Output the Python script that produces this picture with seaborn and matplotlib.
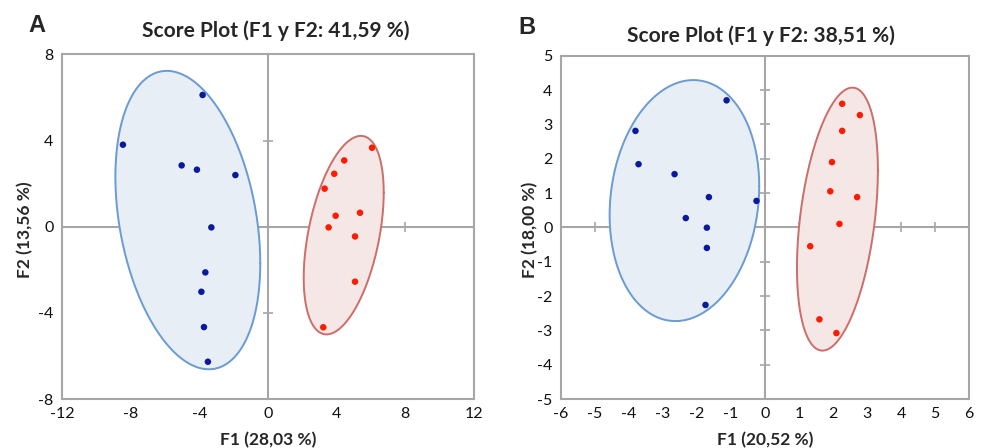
import matplotlib
matplotlib.use("Agg")
import matplotlib.pyplot as plt
import numpy as np
import pandas as pd
import seaborn as sns

# Panel A scores
a_blue_x = [-3.81, -8.45, -5.03, -4.14, -1.90, -3.30, -3.65, -3.88, -3.73, -3.50]
a_blue_y = [6.12, 3.81, 2.85, 2.65, 2.40, -0.03, -2.12, -3.02, -4.66, -6.27]
a_red_x = [6.06, 4.44, 3.86, 3.30, 3.94, 5.36, 3.53, 5.07, 5.07, 3.22]
a_red_y = [3.67, 3.08, 2.46, 1.77, 0.51, 0.65, -0.03, -0.45, -2.55, -4.67]

# Panel B scores
b_blue_x = [-1.13, -3.81, -3.72, -2.66, -1.65, -0.25, -2.33, -1.71, -1.71, -1.75]
b_blue_y = [3.70, 2.81, 1.84, 1.55, 0.88, 0.77, 0.27, -0.01, -0.60, -2.26]
b_red_x = [2.27, 2.79, 2.27, 1.97, 1.92, 2.71, 2.19, 1.33, 1.60, 2.10]
b_red_y = [3.60, 3.27, 2.81, 1.90, 1.05, 0.88, 0.10, -0.55, -2.68, -3.08]

# group ellipses: centre x, centre y, half width, half height, tilt (corr)
a_blue_ell = [-4.67, 0.31, 4.22, 6.93, -0.29]
a_red_ell = [4.41, -0.39, 2.33, 4.61, 0.43]
b_blue_ell = [-2.37, 0.78, 2.20, 3.51, 0.12]
b_red_ell = [2.13, 0.24, 1.19, 3.83, 0.37]

a_xticks = [-12, -8, -4, 0, 4, 8, 12]
a_yticks = [-8, -4, 0, 4, 8]
b_xticks = list(range(-6, 7))
b_yticks = list(range(-5, 6))

BLUE_PT = "#0a1a9c"
RED_PT = "#ff1a00"
GRID = "#a6a6a6"


def make_df(bx, by, rx, ry):
    return pd.DataFrame({
        "F1": bx + rx,
        "F2": by + ry,
        "grupo": ["azul"] * len(bx) + ["rojo"] * len(rx),
    })


def draw_ellipse(ax, params, edge, face):
    cx, cy, hw, hh, rho = params
    t = np.linspace(0, 2 * np.pi, 300)
    x = cx + hw * np.cos(t)
    y = cy + hh * (rho * np.cos(t) + np.sqrt(1 - rho ** 2) * np.sin(t))
    ax.fill(x, y, color=face, zorder=1)
    ax.plot(x, y, color=edge, lw=1.4, zorder=2)


def draw_panel(ax, df, ells, xticks, yticks):
    draw_ellipse(ax, ells[0], "#6a9bd3", "#e8eef6")
    draw_ellipse(ax, ells[1], "#cc6e6a", "#f6e7e7")

    ax.axhline(0, color=GRID, lw=1.5, zorder=0.5)
    ax.axvline(0, color=GRID, lw=1.5, zorder=0.5)
    inner_x = [v for v in xticks[1:-1] if v != 0]
    inner_y = [v for v in yticks[1:-1] if v != 0]
    ax.plot(inner_x, [0] * len(inner_x), ls="none", marker="|",
            ms=7, mew=1.2, color=GRID, zorder=0.6)
    ax.plot([0] * len(inner_y), inner_y, ls="none", marker="_",
            ms=7, mew=1.2, color=GRID, zorder=0.6)

    sns.scatterplot(data=df, x="F1", y="F2", hue="grupo",
                    palette={"azul": BLUE_PT, "rojo": RED_PT},
                    s=22, linewidth=0, legend=False, ax=ax, zorder=3)

    ax.set_xlim(xticks[0], xticks[-1])
    ax.set_ylim(yticks[0], yticks[-1])
    ax.set_xticks(xticks)
    ax.set_yticks(yticks)
    ax.set_xlabel("")
    ax.set_ylabel("")
    ax.tick_params(length=0, labelsize=11.5, pad=6, colors="#111111")
    for sp in ax.spines.values():
        sp.set_color(GRID)
        sp.set_linewidth(1.5)


sns.set_style("white")
plt.rcParams["font.family"] = ["Lato", "DejaVu Sans"]
plt.rcParams["axes.unicode_minus"] = False

W, H = 986, 448
fig = plt.figure(figsize=(W / 100, H / 100), dpi=100)
ax_a = fig.add_axes([62 / W, 1 - 399 / H, 412 / W, 344.5 / H])
ax_b = fig.add_axes([561 / W, 1 - 399 / H, 408 / W, 343.3 / H])

draw_panel(ax_a, make_df(a_blue_x, a_blue_y, a_red_x, a_red_y),
           [a_blue_ell, a_red_ell], a_xticks, a_yticks)
draw_panel(ax_b, make_df(b_blue_x, b_blue_y, b_red_x, b_red_y),
           [b_blue_ell, b_red_ell], b_xticks, b_yticks)

fig.text(276 / W, 1 - 31 / H, "Score Plot (F1 y F2: 41,59 %)", ha="center",
         va="center", fontsize=15, fontweight="bold")
fig.text(761 / W, 1 - 36 / H, "Score Plot (F1 y F2: 38,51 %)", ha="center",
         va="center", fontsize=15, fontweight="bold")
fig.text(268 / W, 1 - 440 / H, "F1 (28,03 %)", ha="center", va="center",
         fontsize=12.5, fontweight="bold")
fig.text(765 / W, 1 - 440 / H, "F1 (20,52 %)", ha="center", va="center",
         fontsize=12.5, fontweight="bold")
fig.text(25 / W, 1 - 230 / H, "F2 (13,56 %)", ha="center", va="center",
         rotation=90, fontsize=12.5, fontweight="bold")
fig.text(530 / W, 1 - 230 / H, "F2 (18,00 %)", ha="center", va="center",
         rotation=90, fontsize=12.5, fontweight="bold")
fig.text(37 / W, 1 - 25 / H, "A", ha="center", va="center", fontsize=17,
         fontweight="bold", family=["Liberation Sans", "DejaVu Sans"])
fig.text(527 / W, 1 - 27 / H, "B", ha="center", va="center", fontsize=17,
         fontweight="bold", family=["Liberation Sans", "DejaVu Sans"])

fig.savefig("out.png", dpi=100)
